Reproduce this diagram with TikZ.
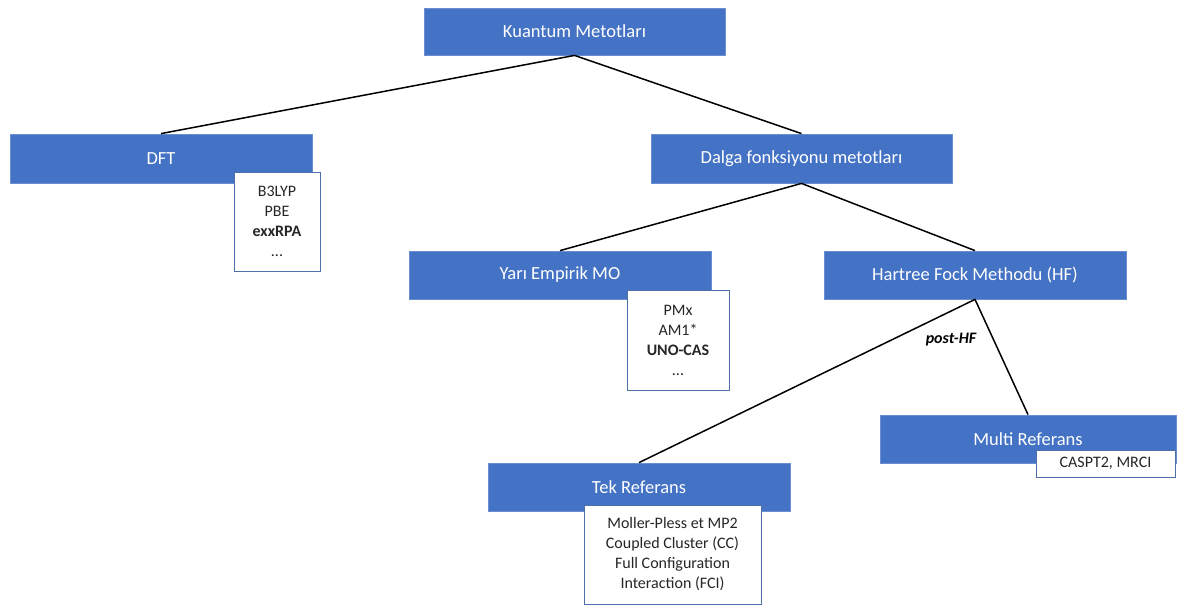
\documentclass[tikz,border=0pt]{standalone}
\usepackage{fontspec}
\setmainfont{Carlito}
\definecolor{boxblue}{HTML}{4472C4}
\definecolor{boxedge}{HTML}{6A8ED0}
\definecolor{listedge}{HTML}{4F6FA8}
\begin{document}
\begin{tikzpicture}[x=1pt,y=1pt,
  mainbox/.style={draw=boxedge,line width=0.8pt,fill=boxblue,text=white,inner sep=0pt,
    font=\fontsize{18.5}{20}\selectfont},
  listbox/.style={draw=listedge,line width=0.8pt,fill=white,text=black!85,inner sep=0pt,
    align=center,font=\fontsize{16}{20}\selectfont},
  link/.style={draw=black,line width=1.5pt}]
\useasboundingbox (0,0) rectangle (1177,-606);
\node[mainbox,minimum width=301,minimum height=47] (k) at (574.5,-31.5) {Kuantum Metotları};
\node[mainbox,minimum width=302,minimum height=49] (dft) at (161,-158.5) {DFT};
\node[mainbox,minimum width=301,minimum height=49] (dalga) at (801.5,-158.5) {Dalga fonksiyonu metotları};
\node[mainbox,minimum width=302,minimum height=48] (yari) at (560,-275) {Yarı Empirik MO};
\node[mainbox,minimum width=302,minimum height=48] (hf) at (975,-275) {Hartree Fock Methodu (HF)};
\node[mainbox,minimum width=296,minimum height=48] (multi) at (1028,-439) {Multi Referans};
\node[mainbox,minimum width=302,minimum height=48] (tek) at (639,-487) {Tek Referans};
\draw[link] (k.south) -- (dft.north);
\draw[link] (k.south) -- (dalga.north);
\draw[link] (dalga.south) -- (yari.north);
\draw[link] (dalga.south) -- (hf.north);
\draw[link] (hf.south) -- (tek.north);
\draw[link] (hf.south) -- (multi.north);
\node[listbox,minimum width=86,minimum height=99] (dftl) at (277,-221.5) {B3LYP\\PBE\\\textbf{exxRPA}\\...};
\node[listbox,minimum width=102,minimum height=100] (yaril) at (678,-340) {PMx\\AM1*\\\textbf{UNO-CAS}\\...};
\node[listbox,minimum width=139,minimum height=27] (casl) at (1105.5,-463.5) {CASPT2, MRCI};
\node[listbox,minimum width=177,minimum height=99] (tekl) at (672.5,-554.5) {Moller-Pless et MP2\\Coupled Cluster (CC)\\Full Configuration\\Interaction (FCI)};
\node[font=\fontsize{16}{18}\selectfont\bfseries\itshape] (post) at (951,-340) {post-HF};
\end{tikzpicture}
\end{document}
